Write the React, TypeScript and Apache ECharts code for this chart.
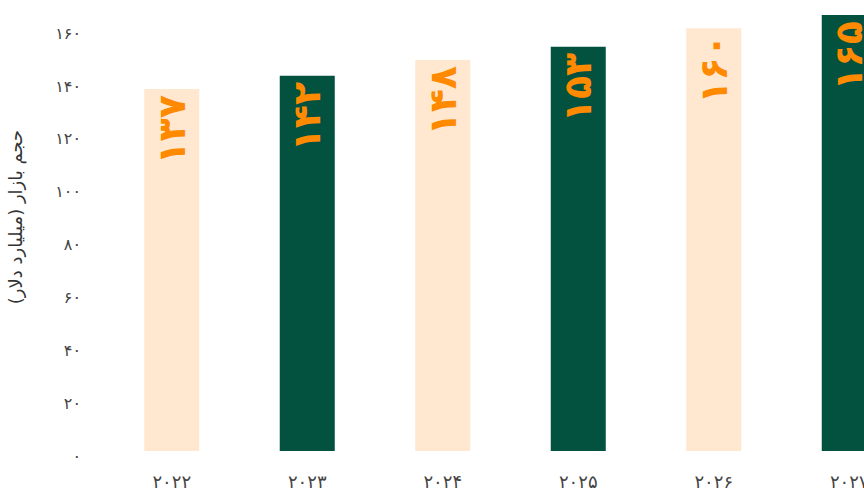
import React, { useEffect, useRef } from "react";
import * as echarts from "echarts";

const categories = ["۲۰۲۲", "۲۰۲۳", "۲۰۲۴", "۲۰۲۵", "۲۰۲۶", "۲۰۲۷"];
const values = [137, 142, 148, 153, 160, 165];
const barColors = ["#FFE8CF", "#02523F", "#FFE8CF", "#02523F", "#FFE8CF", "#02523F"];
const yAxisName = "حجم بازار (میلیارد دلار)";
const persianDigits = ["۰", "۱", "۲", "۳", "۴", "۵", "۶", "۷", "۸", "۹"];

const toFa = (n: number | string) =>
  String(n).replace(/[0-9]/g, (d) => persianDigits[Number(d)]);

export default function App() {
  const ref = useRef<HTMLDivElement>(null);
  useEffect(() => {
    document.body.style.margin = "0";
    document.body.style.overflow = "hidden";
    if (!ref.current) return;
    const chart = echarts.init(ref.current, null, { renderer: "svg" });
    chart.setOption({
      animation: false,
      backgroundColor: "#ffffff",
      textStyle: { fontFamily: "DejaVu Sans" },
      grid: { left: 104, right: 23, top: 15, bottom: 40, outerBoundsMode: "none" },
      xAxis: {
        type: "category",
        data: categories,
        axisLine: { show: false },
        axisTick: { show: false },
        axisLabel: { color: "#444", fontSize: 18, margin: 21, fontFamily: "DejaVu Sans" },
      },
      yAxis: {
        type: "value",
        min: 0,
        max: 165,
        interval: 20,
        name: yAxisName,
        nameLocation: "middle",
        nameGap: 80,
        nameTextStyle: { color: "#333", fontSize: 18, fontFamily: "DejaVu Sans", padding: [0, 0, 0, 32] },
        splitLine: { show: false },
        axisLine: { show: false },
        axisTick: { show: false },
        axisLabel: {
          showMaxLabel: false,
          color: "#444",
          fontSize: 16,
          margin: 23,
          verticalAlign: "top",
          lineHeight: 10,
          formatter: (v: number) => toFa(v),
        },
      },
      series: [
        {
          type: "bar",
          barWidth: 55,
          data: values.map((v, i) => ({ value: v, itemStyle: { color: barColors[i] } })),
          label: {
            show: true,
            position: "insideTop",
            distance: 6,
            rotate: 90,
            align: "right",
            verticalAlign: "middle",
            color: "#FF8A00",
            fontSize: 38,
            fontWeight: "bold",
            fontFamily: "DejaVu Sans",
            formatter: (p: any) => toFa(p.value),
          },
        },
      ],
    });
    return () => chart.dispose();
  }, []);
  return (
    <div style={{ width: 864, height: 491, overflow: "hidden", position: "relative" }}>
      <div ref={ref} style={{ width: 940, height: 491 }} />
    </div>
  );
}
